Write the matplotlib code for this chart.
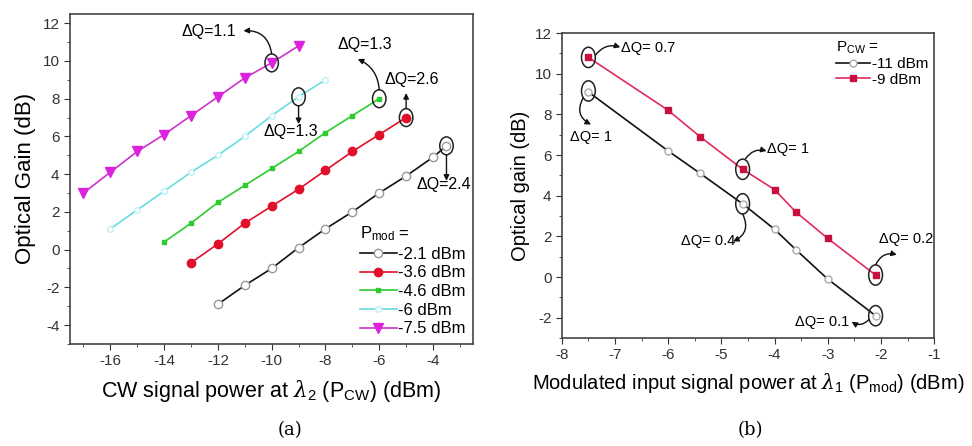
import matplotlib
matplotlib.use("Agg")
import matplotlib.pyplot as plt
from matplotlib.patches import Ellipse
from matplotlib.ticker import MultipleLocator

plt.rcParams['font.family'] = ['Liberation Sans', 'DejaVu Sans']
plt.rcParams['mathtext.fontset'] = 'custom'
plt.rcParams['mathtext.rm'] = 'Liberation Sans'
plt.rcParams['mathtext.it'] = 'DejaVu Serif:italic'
plt.rcParams['axes.unicode_minus'] = False

# ---------- Panel (a) data ----------
pcw_a = {
    '-2.1 dBm': [-12, -11, -10, -9, -8, -7, -6, -5, -4, -3.5],
    '-3.6 dBm': [-13, -12, -11, -10, -9, -8, -7, -6, -5],
    '-4.6 dBm': [-14, -13, -12, -11, -10, -9, -8, -7, -6],
    '-6 dBm':   [-16, -15, -14, -13, -12, -11, -10, -9, -8],
    '-7.5 dBm': [-17, -16, -15, -14, -13, -12, -11, -10, -9],
}
gain_a = {
    '-2.1 dBm': [-2.9, -1.9, -1.0, 0.1, 1.1, 2.0, 3.0, 3.9, 4.9, 5.5],
    '-3.6 dBm': [-0.7, 0.3, 1.4, 2.3, 3.2, 4.2, 5.2, 6.1, 7.0],
    '-4.6 dBm': [0.4, 1.4, 2.5, 3.4, 4.3, 5.2, 6.2, 7.1, 8.0],
    '-6 dBm':   [1.1, 2.1, 3.1, 4.1, 5.0, 6.0, 7.1, 8.1, 9.0],
    '-7.5 dBm': [3.0, 4.1, 5.2, 6.1, 7.1, 8.1, 9.1, 9.9, 10.8],
}
xticks_a = [-16, -14, -12, -10, -8, -6, -4]
yticks_a = [-4, -2, 0, 2, 4, 6, 8, 10, 12]

# ---------- Panel (b) data ----------
pmod_b = [-7.5, -6, -5.4, -4.6, -4, -3.6, -3, -2.1]
gain_b_11 = [9.1, 6.2, 5.1, 3.6, 2.35, 1.35, -0.1, -1.9]
gain_b_9 = [10.8, 8.2, 6.9, 5.3, 4.3, 3.2, 1.9, 0.1]
xticks_b = [-8, -7, -6, -5, -4, -3, -2, -1]
yticks_b = [-2, 0, 2, 4, 6, 8, 10, 12]

fig = plt.figure(figsize=(9.72, 4.46), dpi=100)
axa = fig.add_axes([0.072, 0.229, 0.415, 0.740])
axb = fig.add_axes([0.578, 0.242, 0.383, 0.684])

styles_a = {
    '-2.1 dBm': dict(color='#111111', marker='o', mfc='white', mec='#999999', ms=6),
    '-3.6 dBm': dict(color='#e0102a', marker='o', mfc='#e0102a', mec='#e0102a', ms=6),
    '-4.6 dBm': dict(color='#2ecc2e', marker='s', mfc='#2ecc2e', mec='#2ecc2e', ms=3.5),
    '-6 dBm':   dict(color='#66dede', marker='o', mfc='white', mec='#c0f0f0', ms=4),
    '-7.5 dBm': dict(color='#cc33cc', marker='v', mfc='#dd22dd', mec='#dd22dd', ms=7),
}
for k in pcw_a:
    axa.plot(pcw_a[k], gain_a[k], lw=1.2, label=k, **styles_a[k])

axa.set_xlim(-17.5, -2.5)
axa.set_ylim(-5, 12.5)
axa.set_xticks(xticks_a)
axa.set_yticks(yticks_a)
axa.xaxis.set_minor_locator(MultipleLocator(1))
axa.yaxis.set_minor_locator(MultipleLocator(1))
axa.set_xlabel(r'CW signal power at $\lambda_2$ (P$_{\mathregular{CW}}$) (dBm)', fontsize=15.5, labelpad=7)
axa.set_ylabel('Optical Gain (dB)', fontsize=16, labelpad=5)

leg = axa.legend(loc='lower right', frameon=False, fontsize=12, handlelength=2.2,
                 handletextpad=0.1, labelspacing=0.22, borderaxespad=0.05,
                 title=r'P$_{\mathregular{mod}}$ =', title_fontsize=12)
leg._legend_box.align = 'left'

def ell(ax, x, y, w, h):
    ax.add_patch(Ellipse((x, y), w, h, fill=False, ec='#222222', lw=1.1, zorder=5))

def ann(ax, xy, xytext, rad=0.0):
    ax.annotate('', xy=xy, xytext=xytext,
                arrowprops=dict(arrowstyle='-|>', color='#111111', lw=1.0,
                                mutation_scale=8, shrinkA=0, shrinkB=0,
                                connectionstyle=f'arc3,rad={rad}'))

fsa = 11.5
wa, ha_ = 0.5, 0.95
# magenta -10
mx, my = pcw_a['-7.5 dBm'][7], gain_a['-7.5 dBm'][7]
ell(axa, mx, my, wa, ha_)
axa.text(-12.35, 11.55, 'ΔQ=1.1', fontsize=fsa, ha='center', va='center')
ann(axa, xy=(-11.05, 11.6), xytext=(mx, my + ha_ / 2), rad=0.45)
# cyan -9
cx, cy = pcw_a['-6 dBm'][7], gain_a['-6 dBm'][7]
ell(axa, cx, cy, wa, ha_)
ann(axa, xy=(cx, cy - 1.45), xytext=(cx, cy - ha_ / 2))
axa.text(cx - 0.3, 6.25, 'ΔQ=1.3', fontsize=fsa, ha='center', va='center')
# green -6
gx, gy = pcw_a['-4.6 dBm'][8], gain_a['-4.6 dBm'][8]
ell(axa, gx, gy, wa, ha_)
ann(axa, xy=(-6.8, 10.1), xytext=(gx, gy + ha_ / 2), rad=0.3)
axa.text(-6.55, 10.85, 'ΔQ=1.3', fontsize=fsa, ha='center', va='center')
# red -5
rx, ry = pcw_a['-3.6 dBm'][8], gain_a['-3.6 dBm'][8]
ell(axa, rx, ry, wa, ha_)
ann(axa, xy=(rx, ry + 1.3), xytext=(rx, ry + ha_ / 2))
axa.text(-4.8, 9.0, 'ΔQ=2.6', fontsize=fsa, ha='center', va='center')
# black -3.5
bx, by = pcw_a['-2.1 dBm'][9], gain_a['-2.1 dBm'][9]
ell(axa, bx, by, wa, ha_)
ann(axa, xy=(bx, by - 1.85), xytext=(bx, by - ha_ / 2))
axa.text(-3.6, 3.45, 'ΔQ=2.4', fontsize=fsa, ha='center', va='center')

# ---------- Panel (b) ----------
axb.plot(pmod_b, gain_b_11, color='#111111', lw=1.2, marker='o', mfc='white',
         mec='#aaaaaa', ms=5, label='-11 dBm')
axb.plot(pmod_b, gain_b_9, color='#e02c5c', lw=1.2, marker='s', mfc='#c8103f',
         mec='#c8103f', ms=4.5, label='-9 dBm')
axb.set_xlim(-8, -1)
axb.set_ylim(-3, 12)
axb.set_xticks(xticks_b)
axb.set_yticks(yticks_b)
axb.xaxis.set_minor_locator(MultipleLocator(0.5))
axb.yaxis.set_minor_locator(MultipleLocator(1))
axb.set_xlabel(r'Modulated input signal power at $\lambda_1$ (P$_{\mathregular{mod}}$) (dBm)', fontsize=14.5, labelpad=6)
axb.set_ylabel('Optical gain (dB)', fontsize=14.5, labelpad=3)
legb = axb.legend(loc='upper right', frameon=False, fontsize=11, handlelength=2.2,
                  handletextpad=0.1, labelspacing=0.1, borderaxespad=0.0,
                  title=r'P$_{\mathregular{CW}}$ =', title_fontsize=11)
legb._legend_box.align = 'left'

fsb = 10.5
wb, hb = 0.26, 1.0
# red -7.5
ell(axb, pmod_b[0], gain_b_9[0], wb, hb)
ann(axb, xy=(-6.9, 11.3), xytext=(pmod_b[0] + wb / 2, gain_b_9[0] + 0.1), rad=-0.35)
axb.text(-6.88, 11.28, 'ΔQ= 0.7', fontsize=fsb, ha='left', va='center')
# black -7.5
ell(axb, pmod_b[0], gain_b_11[0] + 0.05, wb, hb)
ann(axb, xy=(-7.45, 7.5), xytext=(pmod_b[0] - 0.1, gain_b_11[0] - 0.3), rad=0.5)
axb.text(-7.45, 6.9, 'ΔQ= 1', fontsize=fsb, ha='center', va='center')
# red -4.6
ell(axb, pmod_b[3], gain_b_9[3], wb, hb)
ann(axb, xy=(-4.15, 6.2), xytext=(pmod_b[3] + 0.05, gain_b_9[3] + hb / 2), rad=-0.35)
axb.text(-4.15, 6.3, 'ΔQ= 1', fontsize=fsb, ha='left', va='center')
# black -4.6
ell(axb, pmod_b[3], gain_b_11[3], wb, hb)
ann(axb, xy=(-4.78, 1.75), xytext=(pmod_b[3], gain_b_11[3] - hb / 2), rad=-0.5)
axb.text(-5.25, 1.75, 'ΔQ= 0.4', fontsize=fsb, ha='center', va='center')
# red -2.1
ell(axb, pmod_b[7], gain_b_9[7], wb, hb)
ann(axb, xy=(-1.7, 1.1), xytext=(pmod_b[7], gain_b_9[7] + hb / 2), rad=-0.4)
axb.text(-1.02, 1.85, 'ΔQ= 0.2', fontsize=fsb, ha='right', va='center')
# black -2.1
ell(axb, pmod_b[7], gain_b_11[7], wb, hb)
ann(axb, xy=(-2.55, -2.2), xytext=(pmod_b[7] - wb / 2, gain_b_11[7] - 0.2), rad=-0.4)
axb.text(-3.1, -2.2, 'ΔQ= 0.1', fontsize=fsb, ha='center', va='center')

for ax in (axa, axb):
    ax.tick_params(which='both', direction='out', top=False, right=False, labelsize=11, colors='#333333')
    ax.tick_params(which='major', length=4)
    ax.tick_params(which='minor', length=2.5)
    for s in ax.spines.values():
        s.set_color('#444444')
        s.set_linewidth(1.2)

fig.text(0.298, 0.035, '(a)', fontsize=13, family='DejaVu Serif', ha='center', va='center')
fig.text(0.772, 0.035, '(b)', fontsize=13, family='DejaVu Serif', ha='center', va='center')

fig.savefig('out.png', dpi=100)
